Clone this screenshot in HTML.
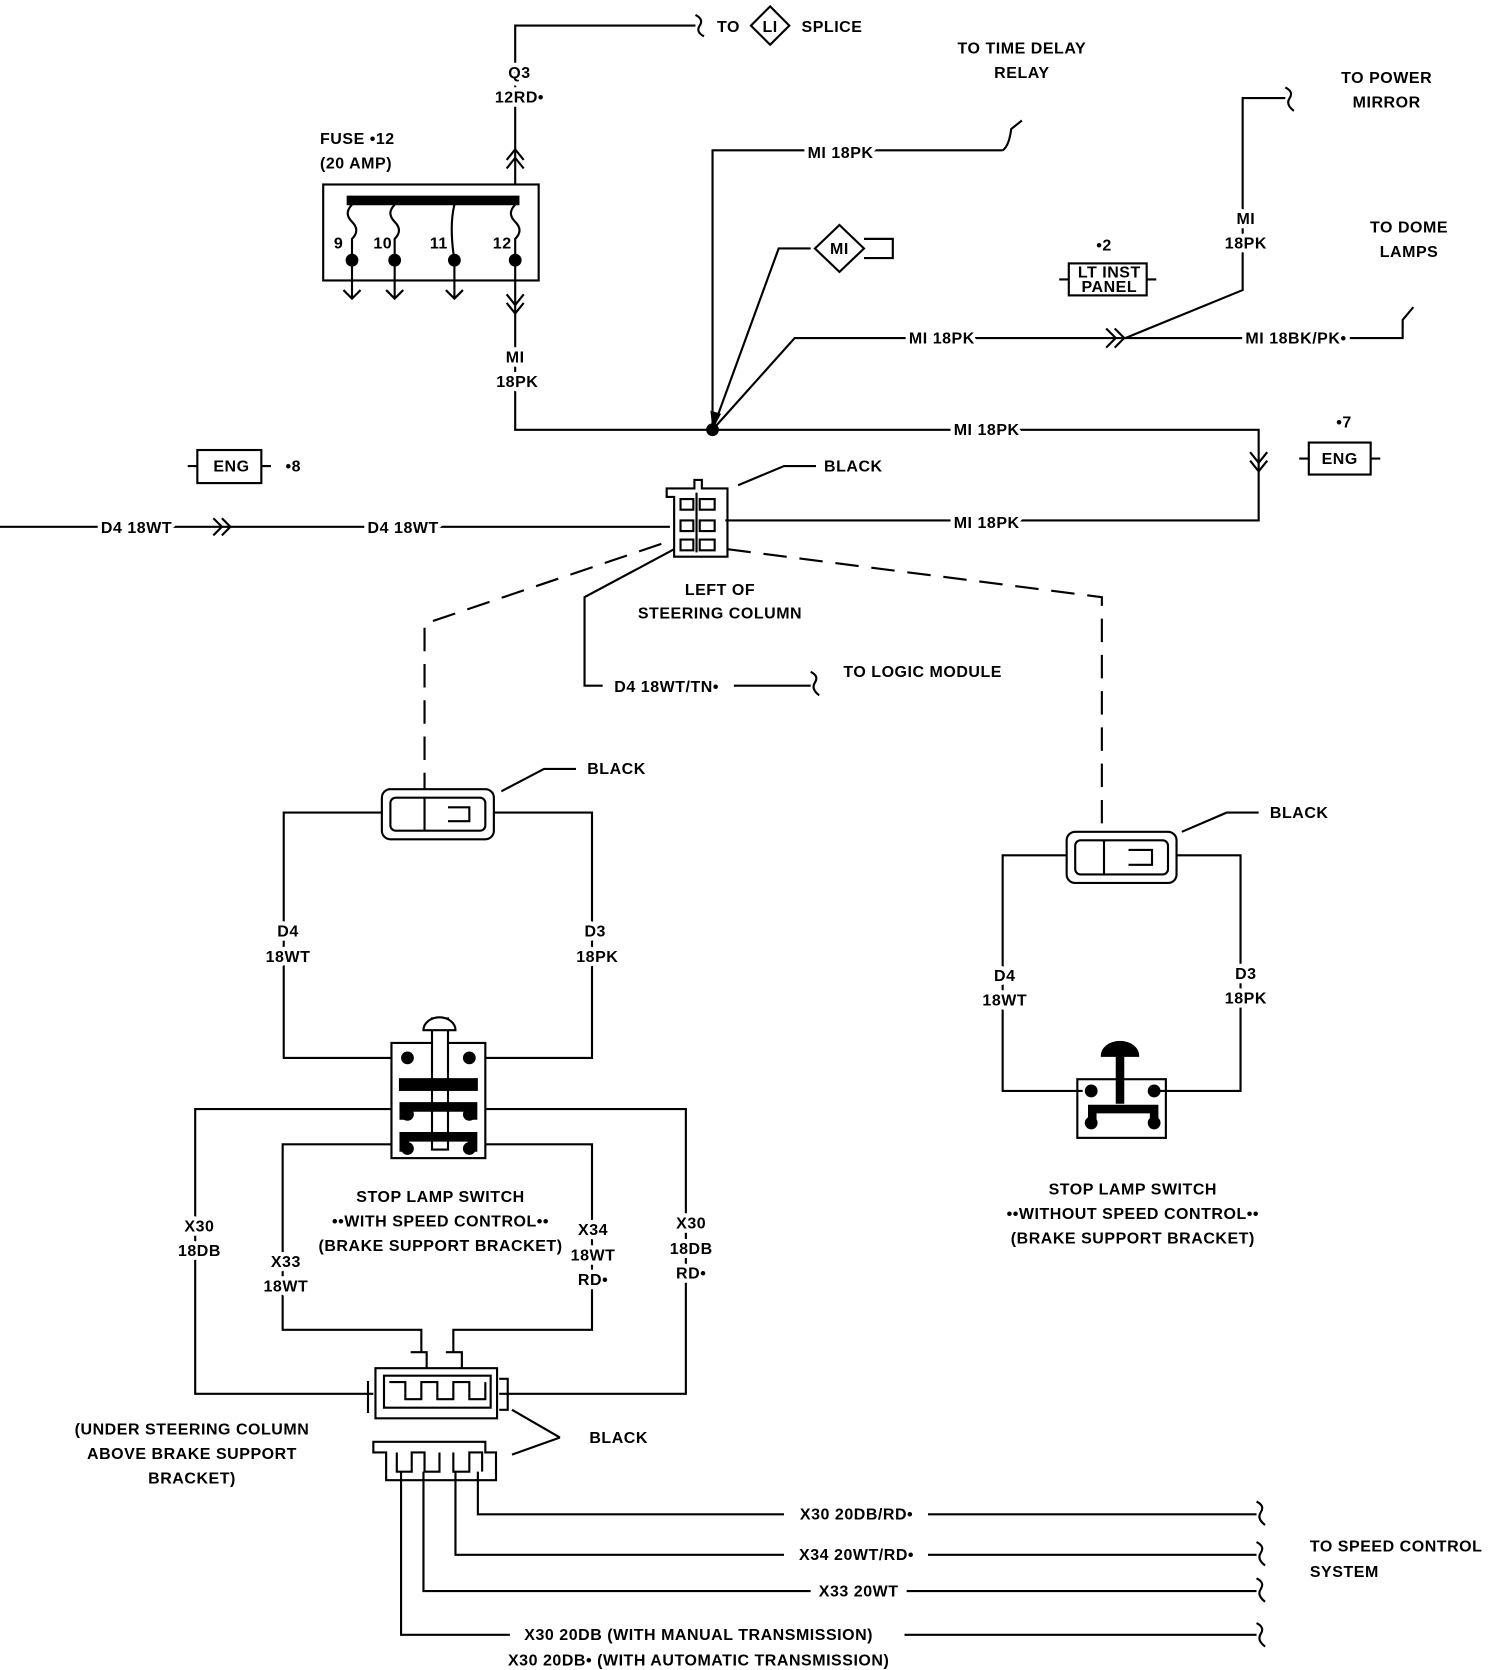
<!DOCTYPE html>
<html><head><meta charset="utf-8"><style>
html,body{margin:0;padding:0;background:#fff}
svg{display:block}
text{font-family:"Liberation Sans",sans-serif;font-size:15px;font-weight:bold;fill:#000;letter-spacing:0.5px;paint-order:stroke;stroke:#fff;stroke-width:8px;stroke-linejoin:round}
text.n{stroke:none}
</style></head><body>
<svg width="1504" height="1670" viewBox="0 0 1410 1566" preserveAspectRatio="none" xmlns="http://www.w3.org/2000/svg">
<g fill="none" stroke="#000" stroke-width="2">
<path d="M483 173 V24 H652"/>
<path d="M652 14 q8 4 4 10 q-4 6 4 10"/>
<path d="M722 6 L740 24 L722 42 L704 24 Z"/>
<path d="M475 158 l8 -10 l8 10 M475 150 l8 -10 l8 10"/>
<rect x="303" y="173" width="202" height="90"/>
<path d="M325 188 H487" stroke-width="9"/>
<path d="M330 192 q-8 8 0 16 q8 8 0 16 v20 M370 192 q-8 8 0 16 q8 8 0 16 v20 M426 192 q-5 20 0 52 M483 192 q-8 8 0 16 q8 8 0 16 v20"/>
<path d="M330 244 v36 M322 272 l8 8 l8 -8 M370 244 v36 M362 272 l8 8 l8 -8 M426 244 v36 M418 272 l8 8 l8 -8"/>
<path d="M483 244 V403 H1180 V488 H680"/>
<path d="M475 276 l8 10 l8 -10 M475 284 l8 10 l8 -10"/>
<path d="M1172 424 l8 10 l8 -10 M1172 432 l8 10 l8 -10"/>
<rect x="1227" y="415" width="58" height="30"/>
<path d="M1218 430 h9 M1285 430 h9"/>
<path d="M668 403 V141 H940 M940 141 q6 -4 8 -20 l10 -8"/>
<path d="M668 403 L730 233 H760"/>
<path d="M787 211 L810 233 L787 255 L764 233 Z"/>
<path d="M810 224 H837 V242 H810"/>
<path d="M668 403 L745 317 H1315 V300 l10 -12"/>
<path d="M1055 317 L1165 272 V92 H1205 M1205 82 q8 4 4 10 q-4 6 4 12"/>
<path d="M1037 308 l9 9 l-9 9 M1045 308 l9 9 l-9 9"/>
<rect x="1002" y="247" width="73" height="30"/>
<path d="M993 262 h9 M1075 262 h9"/>
<rect x="185" y="422" width="60" height="31"/>
<path d="M176 437 h9 M245 437 h9"/>
<path d="M0 494 H628"/>
<path d="M200 486 l8 8 l-8 8 M208 486 l8 8 l-8 8"/>
<path d="M625 458 H651 V450 H658 V458 H682 V522 H632 V466 H625 Z"/>
<path d="M638 468 H650 V478 H638 Z M656 468 H670 V478 H656 Z M638 488 H650 V498 H638 Z M656 488 H670 V498 H656 Z M638 506 H650 V516 H638 Z M656 506 H670 V516 H656 Z M653 462 V518"/>
<path d="M765 437 H735 L692 455"/>
<path d="M632 515 L548 560 V643 H565 M688 643 H760 M760 630 q8 4 4 10 q-4 6 4 12"/>
<path d="M620 510 L398 585 V740 M682 515 L1033 560 V780" stroke-dasharray="22 12"/>
<rect x="358" y="740" width="105" height="47" rx="8"/>
<rect x="366" y="748" width="89" height="31" rx="5"/>
<path d="M398 748 V779 M420 757 H440 V770 H420"/>
<path d="M540 721 H510 L470 742"/>
<path d="M358 762 H266 V992 H367 M463 762 H555 V992 H455"/>
<rect x="367" y="978" width="88" height="108"/>
<path d="M405 955 H420 V1078 H405 Z" fill="#fff"/>
<path d="M397 966 a15 12 0 0 1 30 0 Z" fill="#fff"/>
<rect x="375" y="1012" width="72" height="10" fill="#000"/>
<path d="M379 1050 V1038 H443 V1050 M379 1080 V1066 H443 V1080" stroke-width="9"/>
<g fill="#000" stroke="none"><circle cx="382" cy="992" r="6"/><circle cx="440" cy="992" r="6"/><circle cx="382" cy="1045" r="6"/><circle cx="440" cy="1045" r="6"/><circle cx="382" cy="1077" r="6"/><circle cx="440" cy="1077" r="6"/></g>
<path d="M367 1040 H183 V1307 H350 M455 1040 H643 V1307 H468"/>
<path d="M367 1073 H265 V1247 H395 V1268 M455 1073 H555 V1247 H425 V1268"/>
<path d="M352 1283 H466 V1330 H352 Z M360 1290 H460 V1320 H360 Z"/>
<path d="M365 1296 H380 V1312 H395 V1296 H410 V1312 H425 V1296 H440 V1312 H455 V1296"/>
<path d="M385 1268 H400 V1283 M418 1268 H433 V1283"/>
<path d="M345 1295 V1325 M468 1293 H476 V1322 H468"/>
<path d="M525 1348 L480 1322 M525 1348 L480 1364"/>
<path d="M350 1352 H455 V1362 H465 V1388 H362 V1362 H350 Z"/>
<path d="M372 1362 V1380 H386 V1362 H398 V1380 H412 V1362 M425 1362 V1380 H440 V1362 H452 V1380"/>
<path d="M448 1380 V1420 H735 M870 1420 H1178 M427 1380 V1458 H735 M870 1458 H1178 M397 1380 V1492 H760 M850 1492 H1178 M376 1380 V1533 H478 M848 1533 H1178"/>
<path d="M1178 1408 q8 4 4 10 q-4 6 4 12 M1178 1446 q8 4 4 10 q-4 6 4 12 M1178 1480 q8 4 4 10 q-4 6 4 12 M1178 1522 q8 4 4 10 q-4 6 4 12"/>
<rect x="1000" y="780" width="103" height="48" rx="8"/>
<rect x="1008" y="788" width="87" height="32" rx="5"/>
<path d="M1035 788 V820 M1058 797 H1080 V811 H1058"/>
<path d="M1180 762 H1150 L1108 780"/>
<path d="M1000 802 H940 V1023 H1015 M1103 802 H1163 V1023 H1087"/>
<rect x="1010" y="1012" width="83" height="55"/>
<path d="M1033 990 a17 13 0 0 1 34 0 Z" fill="#000"/>
<rect x="1046" y="990" width="8" height="45" fill="#000" stroke="none"/>
<path d="M1024 1052 V1040 H1082 V1052" stroke-width="8"/>
<g fill="#000" stroke="none"><circle cx="1023" cy="1023" r="6"/><circle cx="1082" cy="1023" r="6"/><circle cx="1023" cy="1053" r="6"/><circle cx="1082" cy="1053" r="6"/></g>
</g>
<g fill="#000"><circle cx="668" cy="403" r="6"/><circle cx="330" cy="244" r="6"/><circle cx="370" cy="244" r="6"/><circle cx="426" cy="244" r="6"/><circle cx="483" cy="244" r="6"/>
<path d="M668 403 l-2 -18 l10 3 Z"/></g>
<g text-anchor="middle">
<text x="487" y="73">Q3</text><text x="487" y="96">12RD•</text>
<text x="683" y="30">TO</text><text class="n" x="722" y="30" font-size="13">LI</text><text x="780" y="30">SPLICE</text>
<text x="958" y="50">TO TIME DELAY</text><text x="958" y="73">RELAY</text>
<text x="1300" y="78">TO POWER</text><text x="1300" y="101">MIRROR</text>
<text x="1321" y="218">TO DOME</text><text x="1321" y="241">LAMPS</text>
<text x="788" y="148">MI 18PK</text>
<text class="n" x="787" y="238" font-size="13">MI</text>
<text x="1168" y="210">MI</text><text x="1168" y="233">18PK</text>
<text x="1035" y="235">•2</text>
<text class="n" x="1040" y="260" font-size="12">LT INST</text><text class="n" x="1040" y="274" font-size="12">PANEL</text>
<text x="883" y="322">MI 18PK</text>
<text x="1215" y="322">MI 18BK/PK•</text>
<text x="483" y="340">MI</text><text x="485" y="363">18PK</text>
<text x="925" y="408">MI 18PK</text>
<text x="925" y="495">MI 18PK</text>
<text x="1260" y="401">•7</text><text class="n" x="1256" y="435">ENG</text>
<text class="n" x="217" y="442">ENG</text><text x="275" y="442">•8</text>
<text x="128" y="500">D4 18WT</text>
<text x="378" y="500">D4 18WT</text>
<text x="800" y="442">BLACK</text>
<text x="675" y="558">LEFT OF</text><text x="675" y="580">STEERING COLUMN</text>
<text x="625" y="649">D4 18WT/TN•</text>
<text x="865" y="635">TO LOGIC MODULE</text>
<text x="578" y="726">BLACK</text>
<text x="1218" y="767">BLACK</text>
<text x="270" y="878">D4</text><text x="270" y="902">18WT</text>
<text x="558" y="878">D3</text><text x="560" y="902">18PK</text>
<text x="942" y="920">D4</text><text x="942" y="943">18WT</text>
<text x="1168" y="918">D3</text><text x="1168" y="941">18PK</text>
<text x="413" y="1127">STOP LAMP SWITCH</text><text x="413" y="1150">••WITH SPEED CONTROL••</text><text x="413" y="1173">(BRAKE SUPPORT BRACKET)</text>
<text x="1062" y="1120">STOP LAMP SWITCH</text><text x="1062" y="1143">••WITHOUT SPEED CONTROL••</text><text x="1062" y="1166">(BRAKE SUPPORT BRACKET)</text>
<text x="187" y="1155">X30</text><text x="187" y="1178">18DB</text>
<text x="268" y="1188">X33</text><text x="268" y="1211">18WT</text>
<text x="556" y="1158">X34</text><text x="556" y="1182">18WT</text><text x="556" y="1205">RD•</text>
<text x="648" y="1152">X30</text><text x="648" y="1176">18DB</text><text x="648" y="1199">RD•</text>
<text x="180" y="1345">(UNDER STEERING COLUMN</text><text x="180" y="1368">ABOVE BRAKE SUPPORT</text><text x="180" y="1391">BRACKET)</text>
<text x="580" y="1353">BLACK</text>
<text x="803" y="1425">X30 20DB/RD•</text>
<text x="803" y="1463">X34 20WT/RD•</text>
<text x="805" y="1497">X33 20WT</text>
<text x="655" y="1538">X30 20DB (WITH MANUAL TRANSMISSION)</text>
<text x="655" y="1562">X30 20DB• (WITH AUTOMATIC TRANSMISSION)</text>
</g>
<text x="300" y="135">FUSE •12</text><text x="300" y="158">(20 AMP)</text>
<text class="n" x="313" y="233">9</text><text class="n" x="350" y="233">10</text><text class="n" x="403" y="233">11</text><text class="n" x="462" y="233">12</text>
<text x="1228" y="1455">TO SPEED CONTROL</text><text x="1228" y="1479">SYSTEM</text>
</svg>
</body></html>
